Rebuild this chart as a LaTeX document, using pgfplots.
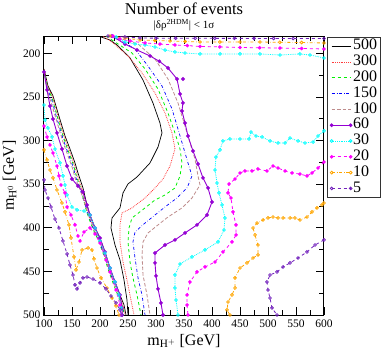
\documentclass[border=0pt]{standalone}
\usepackage{fontspec}
\setmainfont{Liberation Serif}
\usepackage{pgfplots}
\pgfplotsset{compat=1.18}
\definecolor{gviolet}{RGB}{148,0,211}
\definecolor{gindigo}{RGB}{114,33,188}
\definecolor{gorange}{RGB}{255,165,0}
\definecolor{gbrown}{RGB}{190,140,140}
\definecolor{ggreen}{RGB}{0,240,0}
\definecolor{gred}{RGB}{255,60,60}
\definecolor{gblue}{RGB}{0,0,255}
\definecolor{gcyan}{RGB}{0,255,255}
\definecolor{gmagenta}{RGB}{255,0,255}
\pgfplotsset{
 s500/.style={black, line width=0.7pt},
 s300/.style={gred, densely dotted, line width=0.8pt},
 s200/.style={ggreen, dashed, line width=0.8pt},
 s150/.style={gblue, dash dot, line width=0.7pt},
 s100/.style={gbrown, dash pattern=on 3.5pt off 2pt, line width=0.8pt},
 s60/.style={gviolet, line width=0.9pt, mark=*, mark size=1.4pt},
 s30/.style={gcyan, densely dotted, line width=0.8pt, mark=o, mark size=1.4pt, mark options={solid}},
 s20/.style={gmagenta, dashed, line width=0.8pt, mark=*, mark size=1.4pt, mark options={solid}},
 s10/.style={gorange, dash dot, line width=0.8pt, mark=o, mark size=1.4pt, mark options={solid}},
 s5/.style={gindigo, dashed, line width=0.8pt, mark=o, mark size=1.4pt, mark options={solid}},
}
\begin{document}
\begin{tikzpicture}
\begin{axis}[
 width=280pt, height=279pt, scale only axis,
 xmin=100, xmax=600, ymin=180, ymax=500, y dir=reverse,
 xtick={100,150,...,600}, ytick={200,250,...,500},
 minor x tick num=1, minor y tick num=1,
 major tick length=8pt, minor tick length=5pt,
 tick style={line width=0.8pt, black},
 axis line style={line width=1pt},
 ticklabel style={font=\fontsize{11.5}{12}\selectfont},
 xticklabel style={yshift=-1pt},
 /pgf/number format/assume math mode=true,
 xlabel={m$_{\mathrm{H}^{+}}$ [GeV]}, ylabel={m$_{\mathrm{H}^{0}}$ [GeV]},
 label style={font=\fontsize{16}{16}\selectfont},
 legend style={at={(1.011,0.996)}, anchor=north west, font=\fontsize{16}{16}\selectfont,
   draw=black!80, inner xsep=3pt, inner ysep=1pt, row sep=0pt, column sep=1pt,
   nodes={inner sep=0pt, text height=11.5pt, text depth=4.3pt}},
 legend cell align=left,
 legend image code/.code={\draw[#1] plot coordinates {(0pt,0pt) (19pt,0pt)};},
]
% ---- right branches (with legend) ----
\addplot[s500] coordinates {(196.4,180)(217.9,184.6)(230.4,190.3)(253.6,205.2)(276.8,230.5)(294.6,256.9)(307.1,279.8)(310.7,291.2)(303.6,307.3)(289.3,325.6)(266.1,341.7)(250,349.7)(241.1,360)(235.7,377.2)(221.4,388.7)(219.6,400.2)(226.8,419.7)(235.7,436.9)(242.9,459.8)(248.2,482.8)(250,500)};
\addlegendentry{500}
\addplot[s300] coordinates {(205.4,180)(221.4,186.9)(250,202.9)(275,222.4)(298.2,245.4)(316.1,268.3)(328.6,291.2)(333.9,309.6)(325,329.1)(312.5,344)(298.2,354.3)(280.4,365.8)(257.1,377.2)(239.3,383)(235.7,396.7)(235.7,416.2)(241.1,439.2)(250,465.5)(256,485.1)(260.7,500)};
\addlegendentry{300}
\addplot[s200] coordinates {(210.7,180)(226.8,186.9)(257.1,199.5)(280.4,217.8)(303.6,240.8)(321.4,268.3)(333.9,291.2)(342.9,309.6)(346.4,325.6)(342.9,340.5)(333.9,354.3)(316.1,362.3)(298.2,368.1)(280.4,377.2)(257.1,388.7)(251.8,400.2)(250,416.2)(253.6,439.2)(258.9,457.5)(266.1,477)(273.2,500)};
\addlegendentry{200}
\addplot[s150] coordinates {(216.1,180)(235.7,184.6)(262.5,194.9)(285.7,214.4)(310.7,237.3)(328.6,263.7)(339.3,286.7)(348.2,306.1)(357.1,325.6)(364.3,340.5)(355.4,354.3)(337.5,365.8)(316.1,376.1)(298.2,385.3)(280.4,394.5)(262.5,404.8)(258.9,416.2)(262.5,434.6)(267.9,457.5)(275,477)(280.4,500)};
\addlegendentry{150}
\addplot[s100] coordinates {(221.4,180)(244.6,184.6)(267.9,189.2)(298.2,206.4)(321.4,229.3)(339.3,256.8)(351.8,283.2)(360.7,302.7)(369.6,321.1)(375,340.5)(378.6,350.9)(364.3,365.8)(346.4,377.2)(321.4,387.6)(303.6,396.7)(285.7,405.9)(276.8,416.2)(275,431.1)(276.8,454.1)(283.9,477)(289.3,500)};
\addlegendentry{100}
\addplot[s60] coordinates {(221.4,180)(244.6,189.2)(266,196)(289.3,202.9)(306,209)(321.4,216.7)(337.5,229.3)(342.9,246.5)(348.2,256.8)(346.4,266)(351.8,279.8)(357.1,294.7)(366.1,311.9)(375,326.8)(383.9,342.8)(392.9,354.3)(400,370.4)(391.1,385.3)(373.2,396.7)(351.8,405.9)(333.9,413.9)(316.1,419.7)(298.2,428.9)(298.2,440.3)(300,455.2)(303.6,470.1)(308.9,486.2)(312.5,500)};
\addlegendentry{60}
\addplot[s30] coordinates {(600,288.9)(589.3,294.7)(580.4,301.6)(566.1,302.7)(553.6,300.4)(539.3,297)(530.4,302.7)(517.9,302.7)(503.6,300.4)(489.3,295.8)(478.6,294.7)(469.6,290.1)(466.1,298.1)(450,298.1)(432.1,298.1)(419.6,300.4)(414.3,310.7)(407.1,318.8)(405.4,333.7)(408.9,348.6)(412.5,360)(417.9,373.8)(423.2,388.7)(421.4,402.5)(410.7,416.2)(387.5,425.4)(364.3,433.4)(342.9,441.5)(333.9,454.1)(333.9,469)(335.7,482.8)(339.3,500)};
\addlegendentry{30}
\addplot[s20] coordinates {(600,324.5)(589.3,331.4)(578.6,337.1)(569.6,340.5)(557.1,338.3)(542.9,337.1)(530.4,334.8)(517.9,331.4)(508.9,329.1)(498.2,334.8)(482.1,332.5)(471.4,334.8)(458.9,334.8)(450,337.1)(441.1,344)(430.4,349.7)(428.6,360)(433.9,365.8)(437.5,381.8)(442.9,396.7)(442.9,408.2)(435.7,416.2)(419.6,427.7)(405.4,439.2)(387.5,444.9)(373.2,450.6)(360.7,462.1)(355.4,477)(355.4,488.5)(357.1,500)};
\addlegendentry{20}
\addplot[s10] coordinates {(600,371.5)(596.4,373.8)(587.5,377.2)(578.6,381.8)(569.6,387.6)(557.1,391)(548.2,388.7)(539.3,388.7)(526.8,388.7)(517.9,388.7)(508.9,387.6)(500,388.7)(491.1,391)(480.4,394.5)(473.2,400.2)(476.8,408.2)(482.1,419.7)(482.1,431.1)(473.2,434.6)(462.5,440.3)(450,446.1)(441.1,457.5)(441.1,469)(435.7,477)(428.6,485.1)(426.8,494.2)(432.1,500)};
\addlegendentry{10}
\addplot[s5] coordinates {(600,413.9)(583.9,419.7)(569.6,427.7)(553.6,434.6)(539.3,440.3)(526.8,444.9)(516.1,450.6)(503.6,454.1)(498.2,462.1)(500,471.3)(503.6,480.5)(507.1,491.9)(516.1,500)};
\addlegendentry{5}
% ---- left branches ----
\addplot[s500, forget plot] coordinates {(100,217.8)(107.1,237.3)(116.1,248.8)(125,268.3)(132.1,283.2)(137.5,294.6)(146.4,309.5)(155.4,325.6)(160.7,337.2)(169.6,354.3)(176.8,373.9)(182.1,385.3)(191.1,400.2)(200,411.7)(208.9,427.7)(217.9,446.1)(226.8,462.1)(235.7,477)(242.9,488.5)(246.4,500)};
\addplot[s300, forget plot] coordinates {(100,218.5)(107,238.5)(115.5,250)(124,269.5)(131,284.5)(136.5,296)(145,311)(154,327)(159,339)(168,356)(175,375.5)(180.5,387)(189.5,402)(198.5,413.5)(207.5,429.5)(216.5,448)(225.5,464)(234.5,479)(241.5,490)(245,500)};
\addplot[s200, forget plot] coordinates {(100,219.2)(106.5,239.5)(114.5,251)(123,271)(130,286)(135.5,297.5)(144,313)(153,328.5)(158,341)(167,357.5)(174,376.5)(179.5,388)(188.5,403)(197.5,415)(206.5,431)(215.5,449.5)(224.5,465.5)(233.5,480)(240.5,491)(243.5,500)};
\addplot[s150, forget plot] coordinates {(100,220)(106,240.5)(113.5,252.5)(122,272.5)(129,287.5)(134.5,299)(143,314.5)(152,330)(157,342.5)(166,358.5)(175.5,377.5)(181,388.5)(189.5,403)(198.5,414.5)(207.5,430.5)(216.5,448.5)(225.5,464.5)(234.5,479.5)(240,491)(242,500)};
\addplot[s100, forget plot] coordinates {(100,220.5)(105.5,241)(112,255)(121,274)(128,289)(133.5,301)(142,316)(151,332)(156,344)(164.5,356)(174,375)(181,387)(190.5,402)(199.5,413.5)(208.5,429)(217.5,447.5)(226.5,463.5)(235.5,478.5)(239.5,491)(240.5,500)};
\addplot[s60, forget plot] coordinates {(100,221.3)(105.4,241.9)(110.7,260.3)(116.1,275.2)(123.2,291.2)(132.1,309.6)(141.1,329.1)(150,344)(160.7,352)(169.6,358.9)(176.8,373.8)(182.1,385.3)(191.1,400.2)(200,411.7)(208.9,427.7)(217.9,446.1)(226.8,462.1)(235.7,477)(239.3,491.9)(239.3,500)};
\addplot[s60, only marks, forget plot] coordinates {(348.2,229.3)};
\addplot[s30, forget plot] coordinates {(100,259.1)(101.8,276.3)(107.1,285.5)(114.3,295.8)(119.6,309.6)(128.6,325.6)(133.9,340.5)(137.5,350.9)(141.1,362.3)(150,376.1)(158.9,379.5)(171.4,380.7)(182.1,385.3)(191.1,400.2)(200,415.1)(208.9,428.9)(217.9,446.1)(226.8,462.1)(233.9,477)(237.5,491.9)(237.5,500)};
\addplot[s20, forget plot] coordinates {(100,283.2)(105.4,295.8)(110.7,305)(116.1,314.2)(123.2,329.1)(126.8,340.5)(130.4,350.9)(137.5,360)(141.1,376.1)(148.2,385.3)(155.4,396.7)(160.7,409.4)(164.3,415.1)(171.4,404.8)(182.1,400.2)(191.1,407.1)(200,417.4)(210.7,436.9)(217.9,450.6)(228.6,471.3)(235.7,488.5)(237.5,500)};
\addplot[s10, forget plot] coordinates {(100,310.7)(105.4,322.2)(110.7,333.7)(116.1,342.8)(123.2,356.6)(132.1,371.5)(137.5,381.8)(144.6,396.7)(148.2,411.6)(153.6,433.4)(157.1,448.3)(162.5,439.2)(167.9,425.4)(178.6,423.1)(185.7,425.4)(189.3,435.7)(194.6,446.1)(201.8,457.5)(212.5,469)(221.4,480.5)(228.6,489.6)(233.9,500)};
\addplot[s5, forget plot] coordinates {(100,345.1)(101.8,356.6)(107.1,365.8)(112.5,376.1)(119.6,389.9)(126.8,400.2)(133.9,415.1)(141.1,430)(146.4,442.6)(151.8,454.1)(155.4,465.5)(158.9,470.1)(164.3,463.2)(169.6,457.5)(176.8,456.4)(187.5,458.7)(200,463.2)(210.7,470.1)(219.6,478.2)(228.6,486.2)(235.7,494.2)(239.3,500)};
% ---- top lines ----
\addplot[s30, forget plot] coordinates {(228.6,181.1)(244.6,186.9)(262.5,189.2)(280.4,190.3)(298.2,192.6)(316.1,196.1)(333.9,198.3)(351.8,199.5)(378.6,200.6)(414.3,200.6)(450,200.6)(485.7,200.6)(521.4,201.8)(557.1,200.6)(575,201.8)(600,205.2)};
\addplot[s20, forget plot] coordinates {(223.2,180)(235.7,183.4)(253.6,185.7)(280.4,188)(307.1,189.2)(333.9,190.3)(356,191)(378.6,192)(414,192.5)(450,193.2)(485,193.5)(521.4,193.8)(560,194.3)(600,194.9)};
\addplot[s10, forget plot] coordinates {(217.9,180)(244.6,182.3)(271.4,184.6)(298,185.2)(325,185.7)(352,186.3)(378.6,186.9)(414,186.9)(450,186.9)(485.7,186.9)(521,187.2)(560,187.5)(600,188)};
\addplot[s5, forget plot] coordinates {(214.3,180)(244.6,181.1)(271.4,182.3)(300,182.5)(335,182.6)(370,182.6)(405,182.7)(440,182.7)(475,182.8)(510,182.8)(545,182.9)(600,182.9)};
\end{axis}
\node[font=\fontsize{16.5}{17}\selectfont] at (140pt,306pt) {Number of events};
\node[font=\fontsize{11}{12}\selectfont] at (140pt,290pt) {|δρ\textsuperscript{2HDM}| < 1σ};
\pgfresetboundingbox
\path[use as bounding box] (-44pt,-36pt) rectangle (340pt,315pt);
\end{tikzpicture}
\end{document}
